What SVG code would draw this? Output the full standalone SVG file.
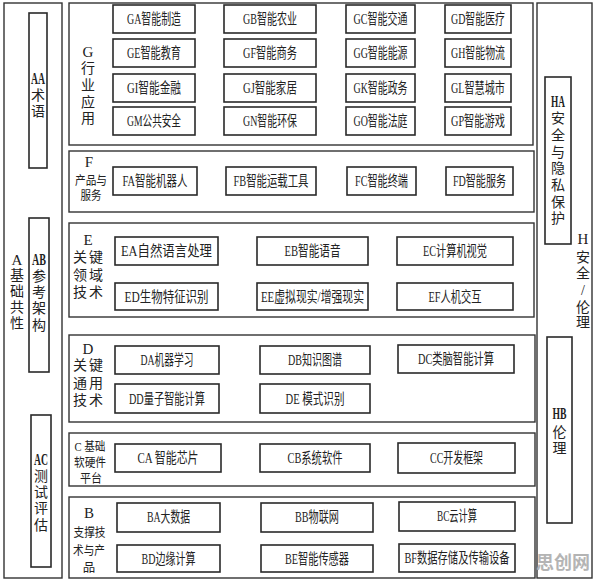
<svg xmlns="http://www.w3.org/2000/svg" width="596" height="581" viewBox="0 0 596 581">
<style>
.sec{fill:#fff;stroke:#333;stroke-width:1.4}
.box{fill:#fff;stroke:#2a2a2a;stroke-width:1.6}
text{font-family:"Liberation Serif","Noto Sans CJK SC",serif;fill:#222;text-anchor:middle}
.t{font-size:14.5px}
.v{font-size:14px}
.h{font-size:12.5px}
.L{font-size:15px}
.LL{font-size:16px;font-weight:bold}
.wm{font-family:"Noto Sans CJK SC",sans-serif;font-size:18px;font-weight:bold;fill:#b4b4b4}
</style>
<rect width="596" height="581" fill="#fff"/>

<g id="A">
<rect class="sec" x="4" y="3" width="58" height="575"/>
<text class="L" x="17" y="265">A</text>
<text class="v" x="17" y="280">基</text>
<text class="v" x="17" y="296">础</text>
<text class="v" x="17" y="312">共</text>
<text class="v" x="17" y="328">性</text>
</g>
<g id="AA">
<rect class="box" x="29" y="13" width="18" height="155"/>
<text class="LL" x="38" y="84" textLength="14" lengthAdjust="spacingAndGlyphs">AA</text>
<text class="v" x="38" y="100">术</text>
<text class="v" x="38" y="116">语</text>
</g>
<g id="AB">
<rect class="box" x="29" y="218" width="20" height="154"/>
<text class="LL" x="39" y="265" textLength="14" lengthAdjust="spacingAndGlyphs">AB</text>
<text class="v" x="39" y="281">参</text>
<text class="v" x="39" y="297">考</text>
<text class="v" x="39" y="313">架</text>
<text class="v" x="39" y="330">构</text>
</g>
<g id="AC">
<rect class="box" x="31" y="415" width="20" height="152"/>
<text class="LL" x="41" y="465" textLength="14" lengthAdjust="spacingAndGlyphs">AC</text>
<text class="v" x="41" y="481">测</text>
<text class="v" x="41" y="497">试</text>
<text class="v" x="41" y="513">评</text>
<text class="v" x="41" y="530">估</text>
</g>

<g id="G">
<rect class="sec" x="69" y="3" width="464" height="142"/>
<text class="L" x="88" y="57">G</text>
<text class="v" x="88" y="73">行</text>
<text class="v" x="88" y="90">业</text>
<text class="v" x="88" y="107">应</text>
<text class="v" x="88" y="123">用</text>
</g>
<g id="GA"><rect class="box" x="113" y="5" width="82" height="28"/><text class="t" x="154" y="24" textLength="54" lengthAdjust="spacingAndGlyphs">GA智能制造</text></g>
<g id="GB"><rect class="box" x="224" y="5" width="92" height="28"/><text class="t" x="270" y="24" textLength="54" lengthAdjust="spacingAndGlyphs">GB智能农业</text></g>
<g id="GC"><rect class="box" x="346" y="5" width="69" height="28"/><text class="t" x="380.5" y="24" textLength="54" lengthAdjust="spacingAndGlyphs">GC智能交通</text></g>
<g id="GD"><rect class="box" x="445" y="5" width="66" height="28"/><text class="t" x="478" y="24" textLength="54" lengthAdjust="spacingAndGlyphs">GD智能医疗</text></g>
<g id="GE"><rect class="box" x="113" y="39" width="82" height="28"/><text class="t" x="154" y="58" textLength="54" lengthAdjust="spacingAndGlyphs">GE智能教育</text></g>
<g id="GF"><rect class="box" x="224" y="39" width="92" height="28"/><text class="t" x="270" y="58" textLength="54" lengthAdjust="spacingAndGlyphs">GF智能商务</text></g>
<g id="GG"><rect class="box" x="346" y="39" width="69" height="28"/><text class="t" x="380.5" y="58" textLength="54" lengthAdjust="spacingAndGlyphs">GG智能能源</text></g>
<g id="GH"><rect class="box" x="445" y="39" width="66" height="28"/><text class="t" x="478" y="58" textLength="54" lengthAdjust="spacingAndGlyphs">GH智能物流</text></g>
<g id="GI"><rect class="box" x="113" y="74" width="82" height="28"/><text class="t" x="154" y="93" textLength="54" lengthAdjust="spacingAndGlyphs">GI智能金融</text></g>
<g id="GJ"><rect class="box" x="224" y="74" width="92" height="28"/><text class="t" x="270" y="93" textLength="54" lengthAdjust="spacingAndGlyphs">GJ智能家居</text></g>
<g id="GK"><rect class="box" x="346" y="74" width="69" height="28"/><text class="t" x="380.5" y="93" textLength="54" lengthAdjust="spacingAndGlyphs">GK智能政务</text></g>
<g id="GL"><rect class="box" x="445" y="74" width="66" height="28"/><text class="t" x="478" y="93" textLength="54" lengthAdjust="spacingAndGlyphs">GL智慧城市</text></g>
<g id="GM"><rect class="box" x="113" y="107" width="82" height="28"/><text class="t" x="154" y="126" textLength="54" lengthAdjust="spacingAndGlyphs">GM公共安全</text></g>
<g id="GN"><rect class="box" x="224" y="107" width="92" height="28"/><text class="t" x="270" y="126" textLength="54" lengthAdjust="spacingAndGlyphs">GN智能环保</text></g>
<g id="GO"><rect class="box" x="346" y="107" width="69" height="28"/><text class="t" x="380.5" y="126" textLength="54" lengthAdjust="spacingAndGlyphs">GO智能法庭</text></g>
<g id="GP"><rect class="box" x="445" y="107" width="66" height="28"/><text class="t" x="478" y="126" textLength="54" lengthAdjust="spacingAndGlyphs">GP智能游戏</text></g>

<g id="F">
<rect class="sec" x="69" y="151" width="465" height="61"/>
<text class="L" x="89" y="167">F</text>
<text class="h" x="91" y="185" textLength="32" lengthAdjust="spacingAndGlyphs">产品与</text>
<text class="h" x="91" y="200" textLength="21" lengthAdjust="spacingAndGlyphs">服务</text>
</g>
<g id="FA"><rect class="box" x="113" y="167" width="84" height="28"/><text class="t" x="155" y="186" textLength="65" lengthAdjust="spacingAndGlyphs">FA智能机器人</text></g>
<g id="FB"><rect class="box" x="226" y="167" width="90" height="28"/><text class="t" x="271" y="186" textLength="75" lengthAdjust="spacingAndGlyphs">FB智能运载工具</text></g>
<g id="FC"><rect class="box" x="347" y="167" width="69" height="28"/><text class="t" x="381.5" y="186" textLength="53" lengthAdjust="spacingAndGlyphs">FC智能终端</text></g>
<g id="FD"><rect class="box" x="446" y="167" width="67" height="28"/><text class="t" x="479.5" y="186" textLength="53" lengthAdjust="spacingAndGlyphs">FD智能服务</text></g>

<g id="E">
<rect class="sec" x="69" y="223" width="465" height="94"/>
<text class="L" x="88" y="245">E</text>
<text class="v" x="80" y="262">关</text><text class="v" x="96" y="262">键</text>
<text class="v" x="80" y="280">领</text><text class="v" x="96" y="280">域</text>
<text class="v" x="80" y="297">技</text><text class="v" x="96" y="297">术</text>
</g>
<g id="EA"><rect class="box" x="115" y="237" width="103" height="28"/><text class="t" x="166.5" y="256" textLength="91" lengthAdjust="spacingAndGlyphs">EA自然语言处理</text></g>
<g id="EB"><rect class="box" x="257" y="237" width="111" height="28"/><text class="t" x="312.5" y="256" textLength="56" lengthAdjust="spacingAndGlyphs">EB智能语音</text></g>
<g id="EC"><rect class="box" x="397" y="237" width="116" height="28"/><text class="t" x="455" y="256" textLength="64" lengthAdjust="spacingAndGlyphs">EC计算机视觉</text></g>
<g id="ED"><rect class="box" x="115" y="283" width="103" height="27"/><text class="t" x="166.5" y="301.5" textLength="84" lengthAdjust="spacingAndGlyphs">ED生物特征识别</text></g>
<g id="EE"><rect class="box" x="257" y="283" width="111" height="27"/><text class="t" x="312.5" y="301.5" textLength="103" lengthAdjust="spacingAndGlyphs">EE虚拟现实/增强现实</text></g>
<g id="EF"><rect class="box" x="397" y="283" width="116" height="27"/><text class="t" x="455" y="301.5" textLength="53" lengthAdjust="spacingAndGlyphs">EF人机交互</text></g>

<g id="D">
<rect class="sec" x="69" y="335" width="466" height="87"/>
<text class="L" x="88" y="354">D</text>
<text class="v" x="80" y="370">关</text><text class="v" x="96" y="370">键</text>
<text class="v" x="80" y="388">通</text><text class="v" x="96" y="388">用</text>
<text class="v" x="80" y="405">技</text><text class="v" x="96" y="405">术</text>
</g>
<g id="DA"><rect class="box" x="115" y="346" width="104" height="28"/><text class="t" x="167" y="365" textLength="53" lengthAdjust="spacingAndGlyphs">DA机器学习</text></g>
<g id="DB"><rect class="box" x="260" y="346" width="110" height="28"/><text class="t" x="315" y="365" textLength="54" lengthAdjust="spacingAndGlyphs">DB知识图谱</text></g>
<g id="DC"><rect class="box" x="398" y="345" width="116" height="28"/><text class="t" x="456" y="364" textLength="76" lengthAdjust="spacingAndGlyphs">DC类脑智能计算</text></g>
<g id="DD"><rect class="box" x="115" y="384" width="104" height="29"/><text class="t" x="167" y="403.5" textLength="76" lengthAdjust="spacingAndGlyphs">DD量子智能计算</text></g>
<g id="DE"><rect class="box" x="260" y="384" width="110" height="29"/><text class="t" x="315" y="403.5" textLength="59" lengthAdjust="spacingAndGlyphs">DE 模式识别</text></g>

<g id="C">
<rect class="sec" x="69" y="433" width="466" height="53"/>
<text class="h" x="90" y="451" textLength="31" lengthAdjust="spacingAndGlyphs">C 基础</text>
<text class="h" x="90" y="467" textLength="32" lengthAdjust="spacingAndGlyphs">软硬件</text>
<text class="h" x="91" y="483" textLength="22" lengthAdjust="spacingAndGlyphs">平台</text>
</g>
<g id="CA"><rect class="box" x="115" y="444" width="106" height="28"/><text class="t" x="168" y="463" textLength="61" lengthAdjust="spacingAndGlyphs">CA 智能芯片</text></g>
<g id="CB"><rect class="box" x="260" y="444" width="110" height="28"/><text class="t" x="315" y="463" textLength="55" lengthAdjust="spacingAndGlyphs">CB系统软件</text></g>
<g id="CC"><rect class="box" x="398" y="443" width="117" height="30"/><text class="t" x="456.5" y="463" textLength="53" lengthAdjust="spacingAndGlyphs">CC开发框架</text></g>

<g id="B">
<rect class="sec" x="69" y="497" width="466" height="81"/>
<text class="L" x="89" y="518">B</text>
<text class="h" x="89.5" y="537" textLength="32" lengthAdjust="spacingAndGlyphs">支撑技</text>
<text class="h" x="89" y="555" textLength="32" lengthAdjust="spacingAndGlyphs">术与产</text>
<text class="h" x="89" y="572">品</text>
</g>
<g id="BA"><rect class="box" x="117" y="503" width="103" height="29"/><text class="t" x="168.5" y="522" textLength="43" lengthAdjust="spacingAndGlyphs">BA大数据</text></g>
<g id="BB"><rect class="box" x="261" y="503" width="112" height="29"/><text class="t" x="317" y="522" textLength="44" lengthAdjust="spacingAndGlyphs">BB物联网</text></g>
<g id="BC"><rect class="box" x="399" y="502" width="116" height="29"/><text class="t" x="457" y="521" textLength="40" lengthAdjust="spacingAndGlyphs">BC云计算</text></g>
<g id="BD"><rect class="box" x="117" y="545" width="103" height="27"/><text class="t" x="168.5" y="563.5" textLength="54" lengthAdjust="spacingAndGlyphs">BD边缘计算</text></g>
<g id="BE"><rect class="box" x="261" y="545" width="112" height="27"/><text class="t" x="317" y="563.5" textLength="64" lengthAdjust="spacingAndGlyphs">BE智能传感器</text></g>
<g id="BF"><rect class="box" x="399" y="544" width="116" height="28"/><text class="t" x="457" y="563" textLength="105" lengthAdjust="spacingAndGlyphs">BF数据存储及传输设备</text></g>

<g id="H">
<rect class="sec" x="537" y="3" width="55" height="575"/>
<text class="L" x="583" y="244">H</text>
<text class="v" x="583" y="262">安</text>
<text class="v" x="583" y="278">全</text>
<text class="v" x="583" y="295">/</text>
<text class="v" x="583" y="312">伦</text>
<text class="v" x="583" y="327">理</text>
</g>
<g id="HA">
<rect class="box" x="545" y="77" width="26" height="167"/>
<text class="LL" x="558" y="107" textLength="14" lengthAdjust="spacingAndGlyphs">HA</text>
<text class="v" x="558" y="123">安</text>
<text class="v" x="558" y="140">全</text>
<text class="v" x="558" y="157">与</text>
<text class="v" x="558" y="173">隐</text>
<text class="v" x="558" y="190">私</text>
<text class="v" x="558" y="207">保</text>
<text class="v" x="558" y="223">护</text>
</g>
<g id="HB">
<rect class="box" x="547" y="337" width="25" height="186"/>
<text class="LL" x="559.5" y="419" textLength="14" lengthAdjust="spacingAndGlyphs">HB</text>
<text class="v" x="559.5" y="437">伦</text>
<text class="v" x="559.5" y="453">理</text>
</g>

<g id="connectors"></g>

<text class="wm" x="563" y="569">思创网</text>
</svg>
